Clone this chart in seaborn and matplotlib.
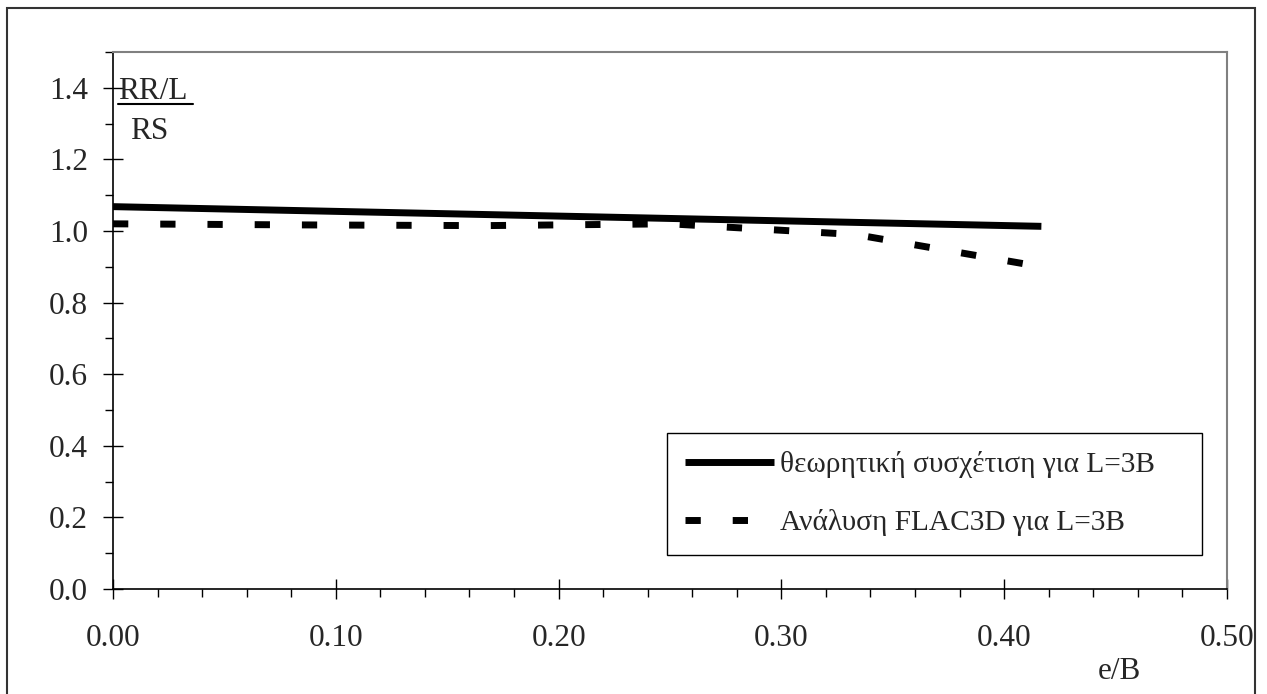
import numpy as np
import pandas as pd
import matplotlib
matplotlib.use("Agg")
import matplotlib.pyplot as plt
from matplotlib.patches import Rectangle
from matplotlib.ticker import MultipleLocator, FormatStrFormatter
import seaborn as sns

# e/B eccentricity ratios and strength ratios
e_over_b = [0.0, 0.0833, 0.1667, 0.25, 0.3333, 0.4167]
theory_l3b = [1.068, 1.057, 1.046, 1.035, 1.024, 1.013]
flac3d_l3b = [1.020, 1.017, 1.015, 1.020, 0.990, 0.900]

series_labels = ["θεωρητική συσχέτιση για L=3B", "Ανάλυση FLAC3D για L=3B"]
x_label = "e/B"
ratio_top = "RR/L"
ratio_bottom = "RS"

sns.set_style("ticks")
plt.rcParams["font.family"] = ["Liberation Serif", "DejaVu Serif"]

df = pd.DataFrame({
    "e/B": e_over_b * 2,
    "ratio": theory_l3b + flac3d_l3b,
    "series": [series_labels[0]] * len(e_over_b) + [series_labels[1]] * len(e_over_b),
})

fig = plt.figure(figsize=(12.67, 6.94), dpi=100)
ax = fig.add_axes([0.0892, 0.1513, 0.8792, 0.7738])

sns.lineplot(data=df[df["series"] == series_labels[0]], x="e/B", y="ratio",
             color="black", linewidth=5, ax=ax, label=series_labels[0],
             solid_capstyle="butt")
sns.lineplot(data=df[df["series"] == series_labels[1]], x="e/B", y="ratio",
             color="black", linewidth=5, ax=ax, label=series_labels[1],
             dash_capstyle="butt")
ax.lines[1].set_dashes((2.2, 4.6))

ax.set_xlim(0, 0.5)
ax.set_ylim(0, 1.5)
ax.xaxis.set_major_locator(MultipleLocator(0.1))
ax.xaxis.set_minor_locator(MultipleLocator(0.02))
ax.yaxis.set_minor_locator(MultipleLocator(0.1))
ax.xaxis.set_major_formatter(FormatStrFormatter("%.2f"))
ax.yaxis.set_major_formatter(FormatStrFormatter("%.1f"))
ax.set_yticks([0, 0.2, 0.4, 0.6, 0.8, 1.0, 1.2, 1.4])

ax.tick_params(axis="both", which="major", direction="inout", length=14,
               width=1, color="black", labelsize=22.5)
ax.tick_params(axis="both", which="minor", direction="out", length=6,
               width=1, color="black")
ax.tick_params(axis="x", which="major", pad=18)
ax.tick_params(axis="y", which="major", pad=11)

for side in ("left", "bottom"):
    ax.spines[side].set_color("black")
    ax.spines[side].set_linewidth(1.2)
for side in ("top", "right"):
    ax.spines[side].set_visible(True)
    ax.spines[side].set_color("#808080")
    ax.spines[side].set_linewidth(1.5)

ax.set_xlabel("")
ax.set_ylabel("")
ax.text(0.903, -0.168, x_label, transform=ax.transAxes, fontsize=22.5,
        ha="center", va="baseline")

# stacked ratio label at the top of the y axis
ax.text(0.0045, 0.912, ratio_top, transform=ax.transAxes, fontsize=22.5,
        ha="left", va="baseline")
ax.plot([0.0045, 0.0718], [0.903, 0.903], transform=ax.transAxes,
        color="black", linewidth=1.5, clip_on=False)
ax.text(0.0153, 0.838, ratio_bottom, transform=ax.transAxes, fontsize=22.5,
        ha="left", va="baseline")

leg = ax.legend(loc="lower left", bbox_to_anchor=(0.497, 0.063, 0.481, 0.224),
                mode="expand", fontsize=21.2, frameon=True, fancybox=False,
                framealpha=1, edgecolor="black", handlelength=3.0,
                handletextpad=0.2, labelspacing=1.05, borderpad=0.64,
                borderaxespad=0)
leg.get_frame().set_linewidth(1.0)

# figure border
fig.patches.append(Rectangle((0.0059, -0.02), 0.9846, 1.0085,
                             transform=fig.transFigure, fill=False,
                             edgecolor="#333333", linewidth=1.5))

fig.savefig("out.png", dpi=100)
